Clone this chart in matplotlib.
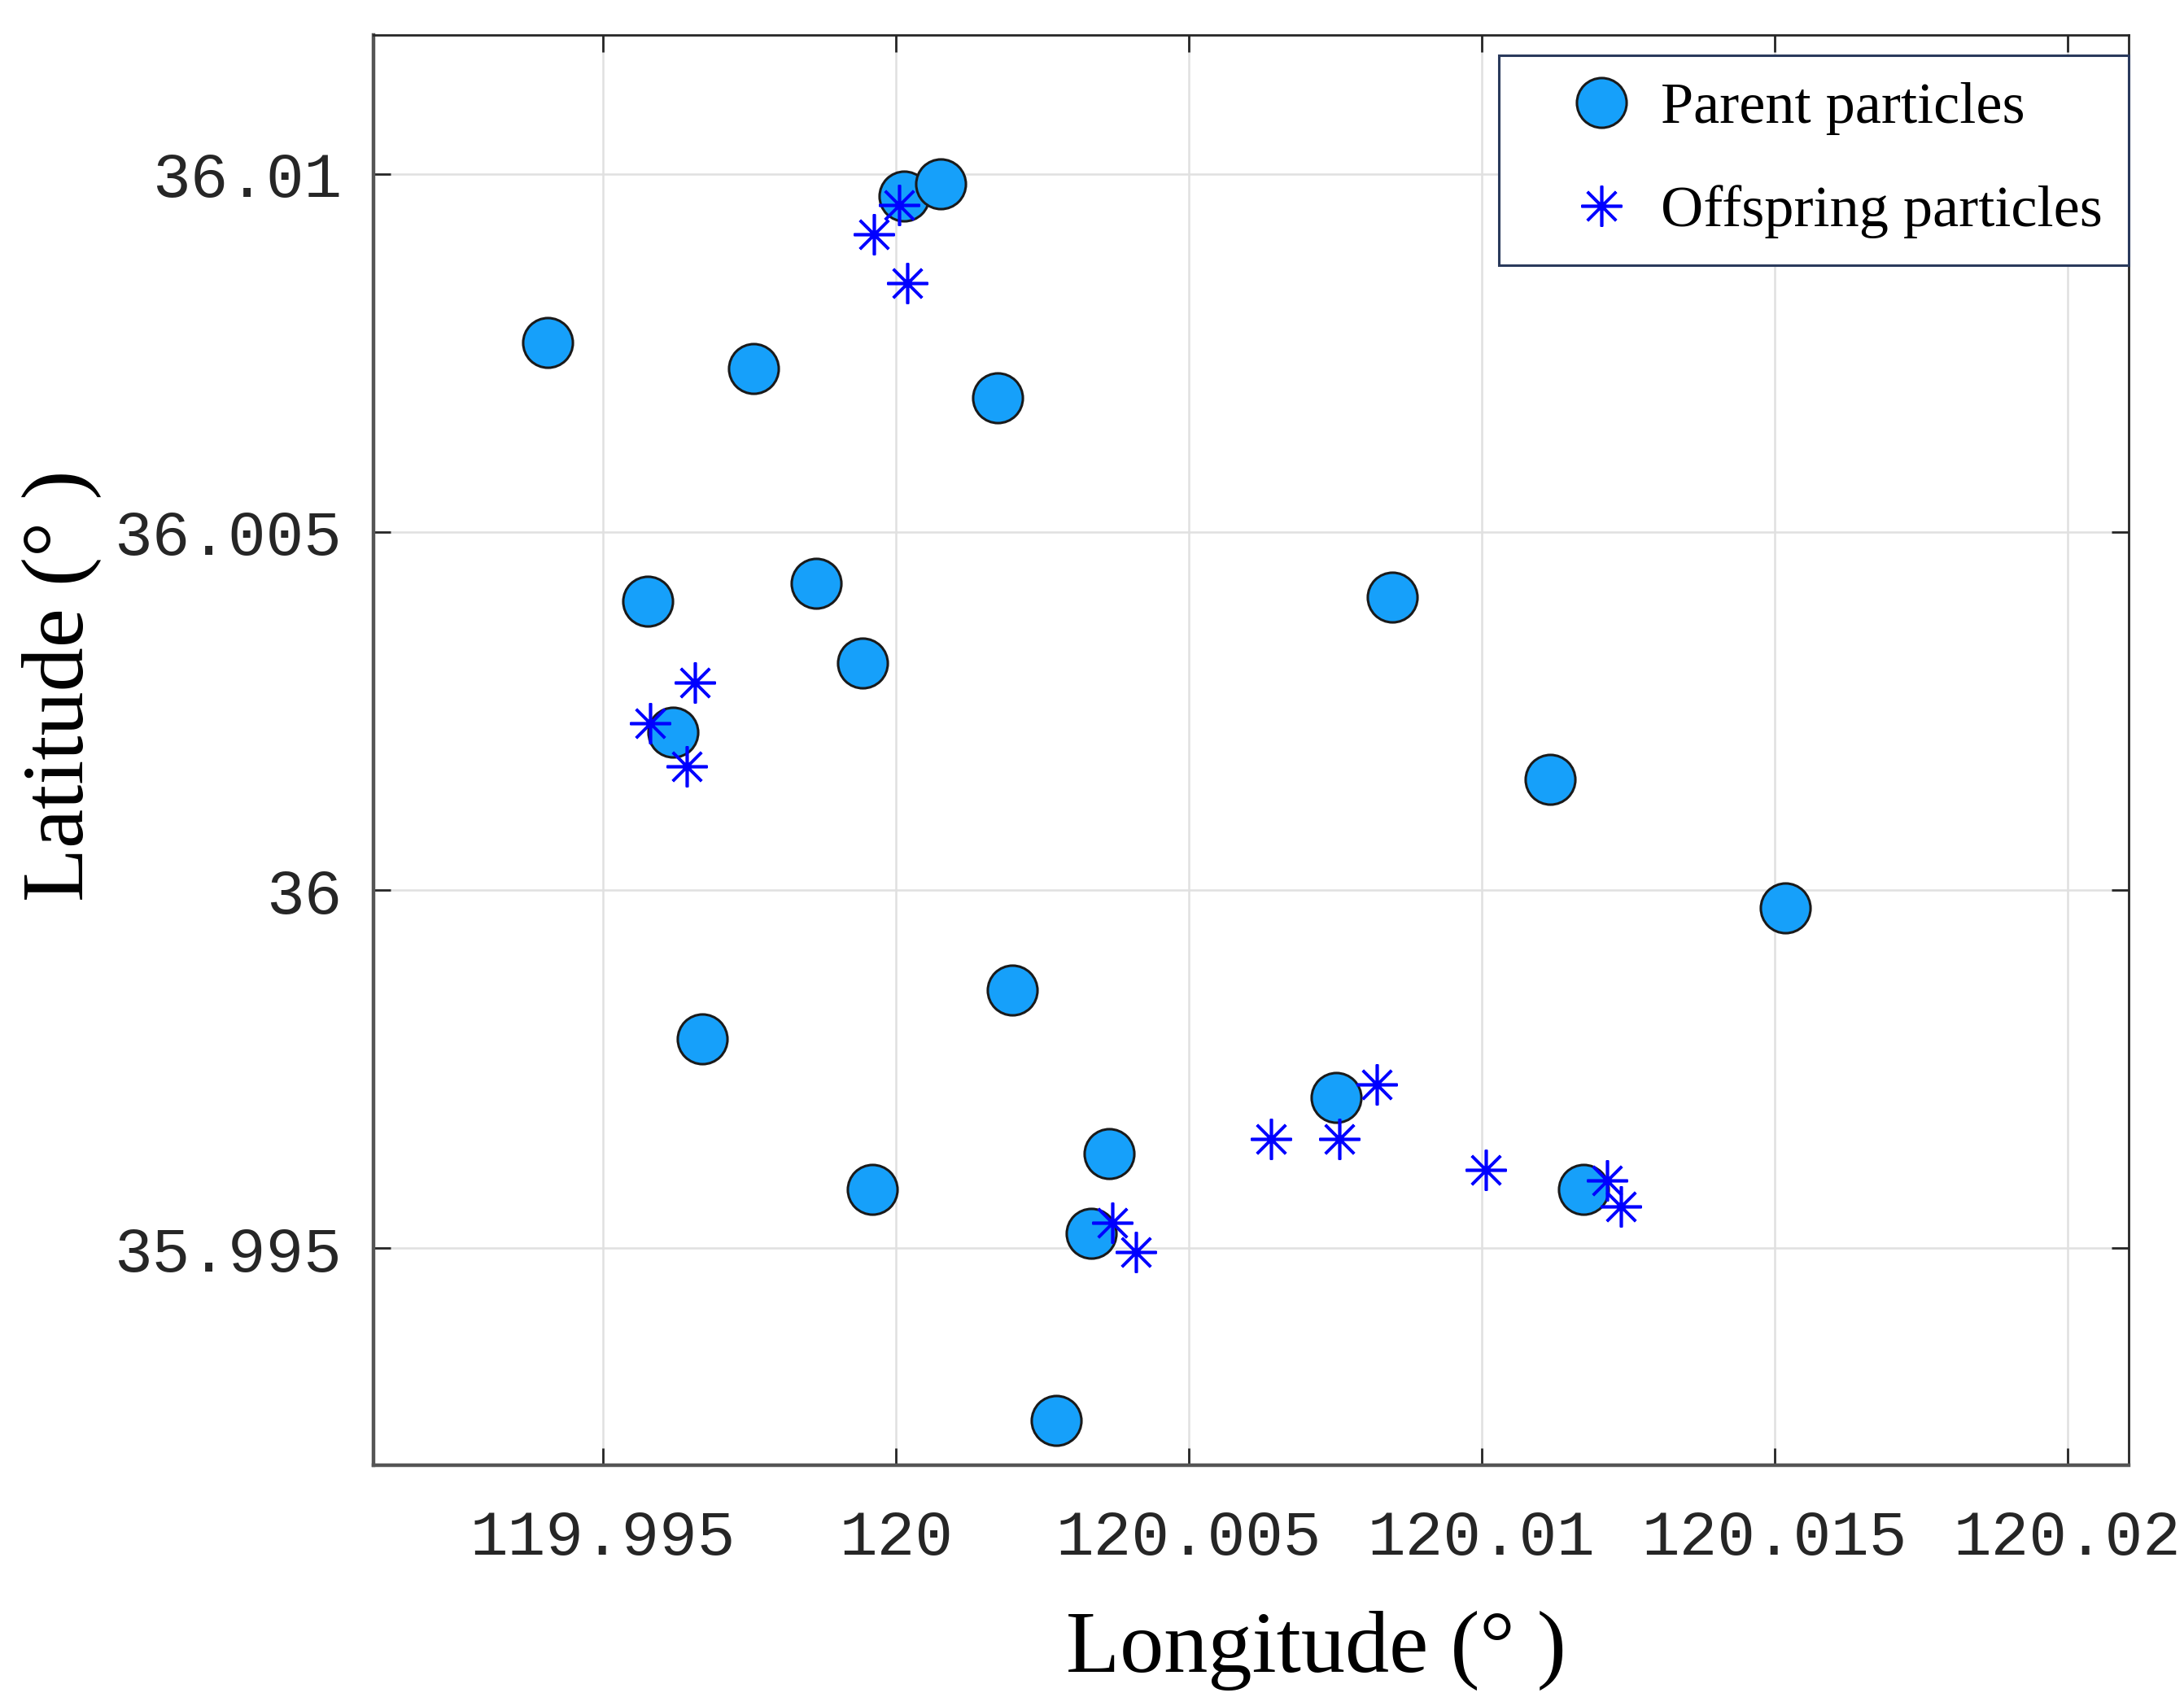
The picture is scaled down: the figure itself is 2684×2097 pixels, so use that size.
import matplotlib.pyplot as plt

# parent particle positions (longitude, latitude in degrees)
parent_lon = [119.99405, 119.99757, 120.00014, 120.00076, 120.00174,
              119.99576, 119.99864, 119.99943, 119.99619, 120.00848,
              120.01117, 120.01519, 120.00198, 119.99669, 120.00752,
              120.00364, 119.99960, 120.01174, 120.00333, 120.00274]
parent_lat = [36.00765, 36.00728, 36.00969, 36.00986, 36.00687,
              36.00403, 36.00428, 36.00317, 36.00220, 36.00409,
              36.00154, 35.99975, 35.99860, 35.99792, 35.99710,
              35.99632, 35.99582, 35.99582, 35.99521, 35.99259]

# offspring particle positions
offspring_lon = [119.99962, 120.00005, 120.00019, 119.99657, 119.99581,
                 119.99643, 120.00821, 120.00640, 120.00757, 120.01007,
                 120.01214, 120.01238, 120.00369, 120.00410]
offspring_lat = [36.00916, 36.00957, 36.00848, 36.00290, 36.00233,
                 36.00173, 35.99728, 35.99652, 35.99652, 35.99609,
                 35.99595, 35.99558, 35.99535, 35.99494]

lon_ticks = [119.995, 120, 120.005, 120.01, 120.015, 120.02]
lat_ticks = [35.995, 36, 36.005, 36.01]

serif = 'Liberation Serif'
tick_font = 'Liberation Mono'
axcol = '#262626'

fig = plt.figure(figsize=(13.42, 10.485), dpi=200)
ax = fig.add_axes([0.1710, 0.1412, 0.8037, 0.8383])

ax.plot(parent_lon, parent_lat, ls='none', marker='o', ms=22,
        mfc='#16A0FA', mec='#1a1a1a', mew=1.1,
        label='Parent particles', zorder=3)
ax.plot(offspring_lon, offspring_lat, ls='none', marker=(8, 2, 0), ms=18,
        mec='#0000FF', mew=1.3,
        label='Offspring particles', zorder=4)

ax.set_xlim(119.99108, 120.02105)
ax.set_ylim(35.99197, 36.01194)

ax.set_xticks(lon_ticks)
ax.set_xticklabels(['%g' % v for v in lon_ticks])
ax.set_yticks(lat_ticks)
ax.set_yticklabels(['%g' % v for v in lat_ticks])

ax.tick_params(axis='both', direction='in', length=7.5, width=1.0,
               color=axcol, labelcolor=axcol, top=True, right=True)
ax.tick_params(axis='x', pad=19)
ax.tick_params(axis='y', pad=14)
for lab in ax.get_xticklabels() + ax.get_yticklabels():
    lab.set_fontfamily(tick_font)
    lab.set_fontsize(28)

ax.grid(True, color='#e0e0e0', linewidth=0.9)
ax.set_axisbelow(True)

for side in ['top', 'right']:
    ax.spines[side].set_color(axcol)
    ax.spines[side].set_linewidth(1.0)
for side in ['left', 'bottom']:
    ax.spines[side].set_color('#555555')
    ax.spines[side].set_linewidth(1.6)

ax.set_xlabel('Longitude (° )', fontfamily=serif, fontsize=39, color='black')
ax.set_ylabel('Latitude (° )', fontfamily=serif, fontsize=39, color='black')
ax.xaxis.set_label_coords(0.537, -0.102)
ax.yaxis.set_label_coords(-0.155, 0.545)

leg = ax.legend(loc='upper right', bbox_to_anchor=(1.0, 0.9858),
                borderaxespad=0, fancybox=False, framealpha=1,
                edgecolor='#2a3a5c', prop={'family': serif, 'size': 26},
                handlelength=2.6, handletextpad=-0.3, borderpad=0.45,
                labelspacing=0.85)
leg.get_frame().set_linewidth(1.1)

plt.savefig('out.png', dpi=200)
